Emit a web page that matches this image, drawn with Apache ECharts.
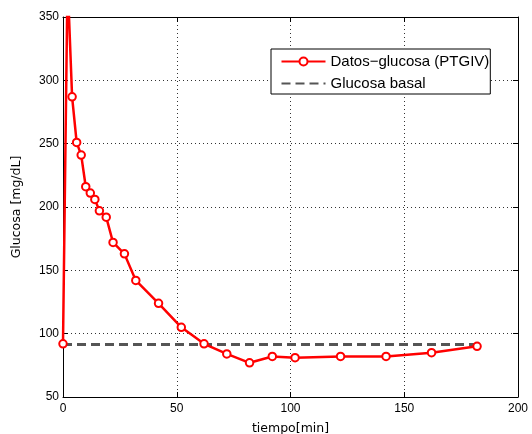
<!DOCTYPE html>
<html><head><meta charset="utf-8">
<script src="https://cdn.jsdelivr.net/npm/echarts@6/dist/echarts.min.js"></script>
<style>html,body{margin:0;padding:0;background:#fff}#c{width:532px;height:434px}</style>
</head><body><div id="c"></div>
<script>
const tiempo = [0, 2, 4, 6, 8, 10, 12, 14, 16, 19, 22, 27, 32, 42, 52, 62, 72, 82, 92, 102, 122, 142, 162, 182];
const glucosa = [92, 380, 287, 251, 241, 216, 211, 206, 197, 192, 172, 163, 142, 124, 105, 92, 84, 77, 82, 81, 82, 82, 85, 90];
const basalX = [0, 182];
const basalY = [91.5, 91.5];
const xTicks = [0, 50, 100, 150, 200];
const yTicks = [50, 100, 150, 200, 250, 300, 350];
const serieNames = ['Datos\u2212glucosa (PTGIV)', 'Glucosa basal'];

const font = 'Liberation Sans, Arial, Helvetica, sans-serif';
const titleFont = 'DejaVu Sans, sans-serif';
const chart = echarts.init(document.getElementById('c'), null, {renderer: 'canvas'});
const grid = {left: 63, right: 14, top: 17, bottom: 37, containLabel: false, outerBoundsMode: 'none'};
const dotted = {show: true, lineStyle: {color: '#333', width: 1, type: [1, 3]}};
const baseX = {type: 'value', min: xTicks[0], max: xTicks[xTicks.length - 1], interval: 50};
const baseY = {type: 'value', min: yTicks[0], max: yTicks[yTicks.length - 1], interval: 50};
chart.setOption({
  animation: false,
  grid: grid,
  legend: {
    orient: 'vertical', left: 271, top: 49,
    backgroundColor: '#fff', borderColor: '#000', borderWidth: 1,
    padding: [5, 1, 3, 9.5], itemWidth: 44, itemHeight: 10, itemGap: 7,
    textStyle: {fontFamily: font, fontSize: 15, color: '#000'},
    data: [
      {name: serieNames[0], itemStyle: {color: '#fff', borderColor: '#ff0000', borderWidth: 2}},
      {name: serieNames[1], itemStyle: {opacity: 0}}
    ]
  },
  xAxis: [
    Object.assign({}, baseX, {
      position: 'bottom',
      name: 'tiempo[min]', nameLocation: 'middle', nameGap: 25,
      nameTextStyle: {fontFamily: titleFont, fontSize: 12.5, color: '#000'},
      axisLine: {show: true, onZero: false, lineStyle: {color: '#000', width: 1}},
      axisTick: {show: true, inside: true, length: 5, lineStyle: {color: '#000'}},
      axisLabel: {fontFamily: font, fontSize: 12, color: '#000', margin: 6,
        formatter: v => xTicks.includes(v) ? String(v) : ''},
      splitLine: dotted
    }),
    Object.assign({}, baseX, {
      position: 'top',
      axisLine: {show: true, onZero: false, lineStyle: {color: '#000', width: 1}},
      axisTick: {show: true, inside: true, length: 5, lineStyle: {color: '#000'}},
      axisLabel: {show: false},
      splitLine: {show: false}
    })
  ],
  yAxis: [
    Object.assign({}, baseY, {
      position: 'left',
      name: 'Glucosa [mg/dL]', nameLocation: 'middle', nameGap: 40, nameRotate: 90,
      nameTextStyle: {fontFamily: titleFont, fontSize: 12.5, color: '#000'},
      axisLine: {show: true, onZero: false, lineStyle: {color: '#000', width: 1}},
      axisTick: {show: true, inside: true, length: 5, lineStyle: {color: '#000'}},
      axisLabel: {fontFamily: font, fontSize: 12, color: '#000', margin: 4,
        formatter: v => yTicks.includes(v) ? String(v) : ''},
      splitLine: dotted
    }),
    Object.assign({}, baseY, {
      position: 'right',
      axisLine: {show: true, onZero: false, lineStyle: {color: '#000', width: 1}},
      axisTick: {show: true, inside: true, length: 5, lineStyle: {color: '#000'}},
      axisLabel: {show: false},
      splitLine: {show: false}
    })
  ],
  series: [
    {
      name: serieNames[1], type: 'line', xAxisIndex: 0, yAxisIndex: 0,
      data: basalX.map((x, i) => [x, basalY[i]]),
      showSymbol: false, symbol: 'none',
      lineStyle: {color: '#555', width: 3, type: [9, 5]},
      itemStyle: {color: '#555'}, z: 2
    },
    {
      name: serieNames[0], type: 'line', xAxisIndex: 0, yAxisIndex: 0,
      data: tiempo.map((x, i) => [x, glucosa[i]]),
      clip: true,
      symbol: 'circle', symbolSize: 7.5, showSymbol: true,
      lineStyle: {color: '#ff0000', width: 2.5},
      itemStyle: {color: '#fff', borderColor: '#ff0000', borderWidth: 2},
      z: 3
    }
  ]
});
</script></body></html>
